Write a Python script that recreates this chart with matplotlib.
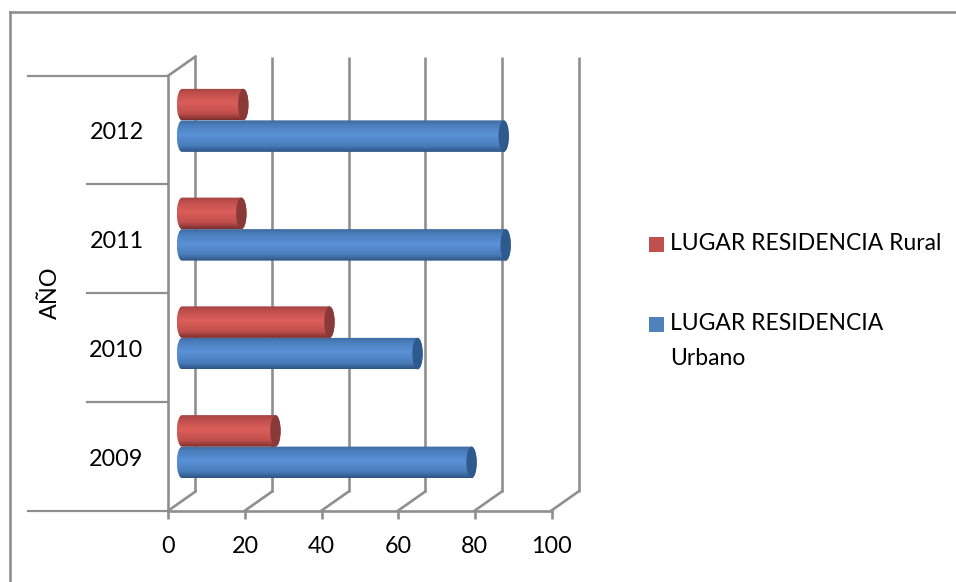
import numpy as np
import matplotlib
matplotlib.use("Agg")
import matplotlib.pyplot as plt
from matplotlib.patches import Ellipse, PathPatch, Rectangle
from matplotlib.path import Path

years = ["2009", "2010", "2011", "2012"]
urbano = [75.6, 61.5, 84.5, 84.0]
rural = [24.4, 38.5, 15.5, 16.0]
x_ticks = [0, 20, 40, 60, 80, 100]
legend_labels = ["LUGAR RESIDENCIA Rural", "LUGAR RESIDENCIA\nUrbano"]

W, H = 956, 582
PX_PER_X = 3.83
PX_PER_CAT = 108.75
X0_PX, Y0_PX = 168.5, 510.5

plt.rcParams["font.family"] = ["Lato", "DejaVu Sans"]

fig = plt.figure(figsize=(W / 100, H / 100), dpi=100)
ax = fig.add_axes([0, 0, 1, 1])
ax.set_xlim(-X0_PX / PX_PER_X, (W - X0_PX) / PX_PER_X)
ax.set_ylim(-(H - Y0_PX) / PX_PER_CAT, Y0_PX / PX_PER_CAT)
ax.axis("off")

GRAY = "#8f8f8f"
FS = 16.8
LINE = 1.9
n = len(years)
px_x = lambda px: px / PX_PER_X
px_y = lambda px: px / PX_PER_CAT
depth_x, depth_y = px_x(27), px_y(19)


def cylinder(value, base, thick, colors, cap):
    # horizontal cylinder sitting halfway into the chart depth
    x0 = px_x(13.5)
    x1 = x0 + value
    y0 = base + px_y(9.5)
    rx = px_x(5.2)
    k = 0.5523
    yc = y0 + thick / 2
    h = thick / 2
    verts = [(x0, y0), (x1, y0),
             (x1 + k * rx, y0), (x1 + rx, yc - k * h), (x1 + rx, yc),
             (x1 + rx, yc + k * h), (x1 + k * rx, y0 + thick), (x1, y0 + thick),
             (x0, y0 + thick),
             (x0 - k * rx, y0 + thick), (x0 - rx, yc + k * h), (x0 - rx, yc),
             (x0 - rx, yc - k * h), (x0 - k * rx, y0), (x0, y0), (x0, y0)]
    codes = [Path.MOVETO, Path.LINETO,
             Path.CURVE4, Path.CURVE4, Path.CURVE4,
             Path.CURVE4, Path.CURVE4, Path.CURVE4,
             Path.LINETO,
             Path.CURVE4, Path.CURVE4, Path.CURVE4,
             Path.CURVE4, Path.CURVE4, Path.CURVE4,
             Path.CLOSEPOLY]
    clip = PathPatch(Path(verts, codes), fc="none", ec="none", transform=ax.transData)
    ax.add_patch(clip)
    t = np.linspace(0, 1, 64)
    stops = np.array([matplotlib.colors.to_rgb(c) for c in colors])
    pos = [0, 0.2, 0.55, 0.85, 1]
    grad = np.stack([np.interp(t, pos, stops[:, i]) for i in range(3)], axis=1)[:, None, :]
    im = ax.imshow(grad, extent=(x0 - rx, x1 + rx, y0, y0 + thick), origin="lower",
                   aspect="auto", zorder=3, interpolation="bilinear")
    im.set_clip_path(clip)
    ax.add_patch(Ellipse((x1, yc), 2 * rx, thick, fc=cap, ec="none", zorder=4))


# back wall gridlines and floor edges
for v in x_ticks:
    ax.plot([v + depth_x, v + depth_x], [depth_y, n + depth_y], color=GRAY, lw=LINE, zorder=1,
            solid_capstyle="butt")
    ax.plot([v, v + depth_x], [0, depth_y], color=GRAY, lw=LINE, zorder=1)
    ax.plot([v, v], [0, -px_y(8)], color=GRAY, lw=LINE, zorder=1, solid_capstyle="butt")
    ax.text(v, -px_y(36), str(v), ha="center", va="center", fontsize=FS)
ax.plot([0, x_ticks[-1]], [0, 0], color=GRAY, lw=LINE, zorder=1)
ax.plot([0, 0], [0, n], color=GRAY, lw=LINE, zorder=1)
ax.plot([0, depth_x], [n, n + depth_y], color=GRAY, lw=LINE, zorder=1)

# two-level category axis on the left
for i in range(n + 1):
    start = -px_x(140) if i in (0, n) else -px_x(81)
    ax.plot([start, 0], [i, i], color=GRAY, lw=1.6, zorder=1)

blues = ["#2f5484", "#4a7dbb", "#5a92d8", "#4a7dbb", "#3f6a9f"]
reds = ["#7c2f2e", "#bf4f4c", "#dc5e5b", "#bf4f4c", "#a44442"]
thick = 31.5 / PX_PER_CAT
for i, year in enumerate(years):
    cylinder(urbano[i], i + 0.5 - thick, thick, blues, "#2f5a8e")
    cylinder(rural[i], i + 0.5, thick, reds, "#893a38")
    ax.text(-px_x(52), i + 0.5 - px_y(3), year, ha="center", va="center", fontsize=FS)

ax.text(-px_x(118), n / 2, "AÑO", rotation=90, ha="center", va="center", fontsize=FS)

# legend
swatches = [("#c0504d", 244.5), ("#4f81bd", 324.5)]
for (color, py), label in zip(swatches, legend_labels):
    ax.add_patch(Rectangle((px_x(649 - X0_PX), px_y(Y0_PX - py - 7.5)), px_x(15), px_y(15),
                           fc=color, ec="none", zorder=3))
    ax.text(px_x(670.5 - X0_PX), px_y(Y0_PX - py + 11), label, ha="left", va="top",
            fontsize=16.5, linespacing=1.78)

# outer chart frame, open on the right and at the bottom
frame_x = px_x(10.5 - X0_PX)
frame_y = px_y(Y0_PX - 12.5)
ax.plot([frame_x, frame_x], [-10, frame_y], color=GRAY, lw=LINE, solid_capstyle="projecting")
ax.plot([frame_x, 300], [frame_y, frame_y], color=GRAY, lw=LINE)

fig.savefig("out.png", dpi=100)
